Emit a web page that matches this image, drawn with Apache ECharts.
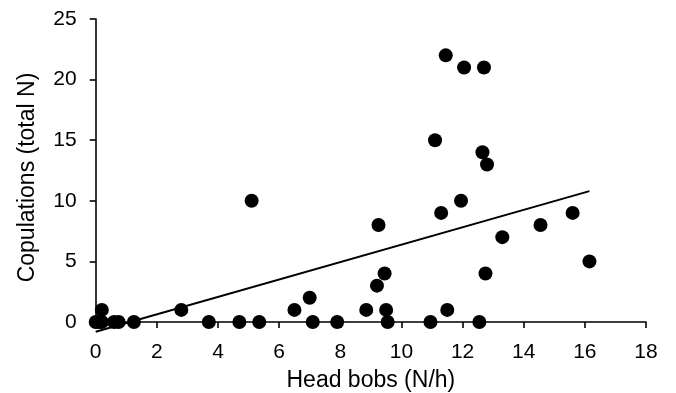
<!DOCTYPE html>
<html>
<head>
<meta charset="utf-8">
<script src="https://cdn.jsdelivr.net/npm/echarts@6/dist/echarts.min.js"></script>
<style>
  html, body { margin: 0; padding: 0; background: #fff; }
  #chart { width: 676px; height: 393px; }
</style>
</head>
<body>
<div id="chart"></div>
<script>
// head bobs (N/h) vs copulations (total N)
const headBobs = [
  0, 0.1, 0.2, 0.2, 0.6, 0.75, 1.25, 2.8, 3.7, 4.7, 5.1, 5.35, 6.5, 7.0, 7.1, 7.9,
  8.85, 9.2, 9.25, 9.45, 9.5, 9.55, 10.95, 11.1, 11.3, 11.45, 11.5, 11.95, 12.05,
  12.55, 12.65, 12.7, 12.75, 12.8, 13.3, 14.55, 15.6, 16.15
];
const copulations = [
  0, 0, 1, 0, 0, 0, 0, 1, 0, 0, 10, 0, 1, 2, 0, 0,
  1, 3, 8, 4, 1, 0, 0, 15, 9, 22, 1, 10, 21,
  0, 14, 21, 4, 13, 7, 8, 9, 5
];
// fitted regression line end points
const fitX = [0, 16.15];
const fitY = [-0.8, 10.8];

const xTicks = [0, 2, 4, 6, 8, 10, 12, 14, 16, 18];
const yTicks = [0, 5, 10, 15, 20, 25];

const chart = echarts.init(document.getElementById('chart'));

const font = '"Liberation Sans", Arial, Helvetica, sans-serif';
const axisCommon = {
  axisLine: { show: true, onZero: false, lineStyle: { color: '#000', width: 1.6 } },
  axisTick: { show: true, inside: false, length: 6, lineStyle: { color: '#000', width: 1.6 } },
  splitLine: { show: false },
  nameLocation: 'middle',
  nameTextStyle: { color: '#000', fontSize: 23, fontFamily: font }
};

chart.setOption({
  animation: false,
  backgroundColor: '#fff',
  grid: { left: 95.7, right: 30, top: 19, bottom: 71, outerBoundsMode: 'none', containLabel: false },
  xAxis: {
    ...axisCommon,
    type: 'value',
    min: xTicks[0],
    max: xTicks[xTicks.length - 1],
    interval: 2,
    name: 'Head bobs (N/h)',
    nameGap: 47,
    axisLabel: { color: '#000', fontSize: 21, fontFamily: font, margin: 20 }
  },
  yAxis: {
    ...axisCommon,
    type: 'value',
    min: yTicks[0],
    max: yTicks[yTicks.length - 1],
    interval: 5,
    name: 'Copulations (total N)',
    nameGap: 57,
    nameTextStyle: { ...axisCommon.nameTextStyle, padding: [0, 14, 0, 0] },
    axisLabel: { color: '#000', fontSize: 21, fontFamily: font, margin: 19 }
  },
  series: [
    {
      type: 'line',
      data: fitX.map((x, i) => [x, fitY[i]]),
      symbol: 'none',
      clip: false,
      lineStyle: { color: '#000', width: 2 },
      z: 2
    },
    {
      type: 'scatter',
      data: headBobs.map((x, i) => [x, copulations[i]]),
      symbolSize: 14,
      clip: false,
      itemStyle: { color: '#000', opacity: 1 },
      z: 3
    }
  ]
});
</script>
</body>
</html>
